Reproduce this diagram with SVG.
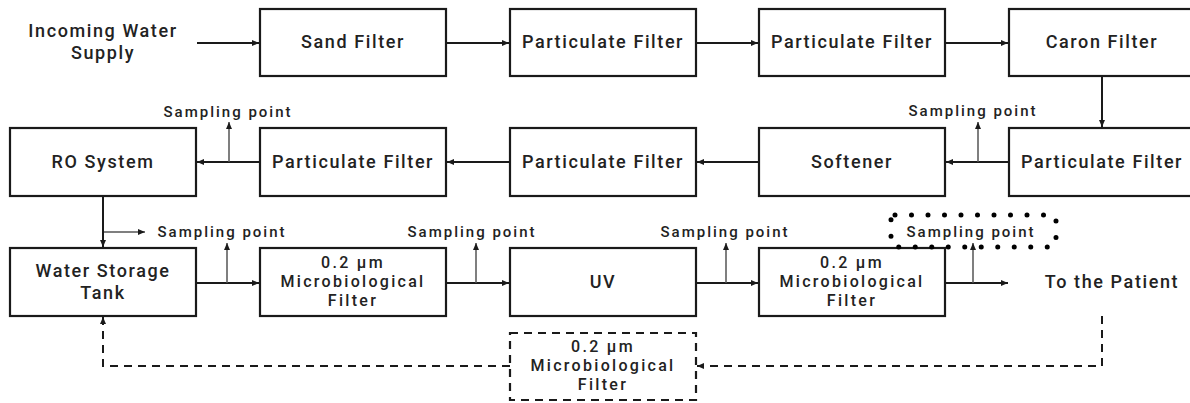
<svg xmlns="http://www.w3.org/2000/svg" width="1190" height="403" viewBox="0 0 1190 403">
<style>
.box{fill:#fff;stroke:#1a1a1a;stroke-width:2.2}
.dbox{fill:#fff;stroke:#1a1a1a;stroke-width:2.2;stroke-dasharray:8 6}
.lbl{font-family:Roboto,"Liberation Sans",sans-serif;font-weight:500;font-size:18px;letter-spacing:1.6px;fill:#222;text-anchor:middle}
.ml{font-family:Roboto,"Liberation Sans",sans-serif;font-weight:500;font-size:16px;letter-spacing:2.3px;fill:#222;text-anchor:middle}
.sp{font-family:Roboto,"Liberation Sans",sans-serif;font-weight:500;font-size:15px;letter-spacing:2px;fill:#222;text-anchor:middle}
.main{stroke:#1a1a1a;stroke-width:2;fill:none}
.samp{stroke:#555;stroke-width:1.5;fill:none}
.dash{stroke:#1a1a1a;stroke-width:2;fill:none;stroke-dasharray:8 6}
</style>
<defs>
<marker id="ah" markerUnits="userSpaceOnUse" markerWidth="8" markerHeight="8" refX="7" refY="4" orient="auto">
<path d="M0,1 L7,4 L0,7 z" fill="#1a1a1a"/>
</marker>
</defs>
<rect width="1190" height="403" fill="#fff"/>

<g id="connectors">
<line class="main" x1="197" y1="43" x2="259" y2="43" marker-end="url(#ah)"/>
<line class="main" x1="446" y1="43" x2="509" y2="43" marker-end="url(#ah)"/>
<line class="main" x1="696" y1="43" x2="758" y2="43" marker-end="url(#ah)"/>
<line class="main" x1="945" y1="43" x2="1008" y2="43" marker-end="url(#ah)"/>
<line class="main" x1="1102" y1="76" x2="1102" y2="127" marker-end="url(#ah)"/>
<line class="main" x1="1009" y1="162" x2="946" y2="162" marker-end="url(#ah)"/>
<line class="samp" x1="978" y1="162" x2="978" y2="122" marker-end="url(#ah)"/>
<line class="main" x1="759" y1="162" x2="697" y2="162" marker-end="url(#ah)"/>
<line class="main" x1="510" y1="162" x2="447" y2="162" marker-end="url(#ah)"/>
<line class="main" x1="260" y1="162" x2="197" y2="162" marker-end="url(#ah)"/>
<line class="samp" x1="229" y1="162" x2="229" y2="122" marker-end="url(#ah)"/>
<line class="main" x1="103" y1="196" x2="103" y2="247" marker-end="url(#ah)"/>
<line class="samp" x1="104" y1="232" x2="145" y2="232" marker-end="url(#ah)"/>
<line class="main" x1="196" y1="283" x2="259" y2="283" marker-end="url(#ah)"/>
<line class="samp" x1="227" y1="283" x2="227" y2="243" marker-end="url(#ah)"/>
<line class="main" x1="446" y1="283" x2="509" y2="283" marker-end="url(#ah)"/>
<line class="samp" x1="476" y1="283" x2="476" y2="243" marker-end="url(#ah)"/>
<line class="main" x1="696" y1="283" x2="758" y2="283" marker-end="url(#ah)"/>
<line class="samp" x1="726" y1="283" x2="726" y2="243" marker-end="url(#ah)"/>
<line class="main" x1="945" y1="283" x2="1008" y2="283" marker-end="url(#ah)"/>
<line class="samp" x1="973" y1="283" x2="973" y2="243" marker-end="url(#ah)"/>
<path class="dash" d="M1102,316 V366 H697" marker-end="url(#ah)"/>
<path class="dash" d="M510,366 H103 V317" marker-end="url(#ah)"/>
</g>

<g id="incoming">
<text class="lbl" x="103" y="37"><tspan x="103">Incoming Water</tspan><tspan x="103" dy="21.5">Supply</tspan></text>
</g>
<g id="sand-filter"><rect class="box" x="260" y="9" width="186" height="67"/><text class="lbl" x="353" y="48">Sand Filter</text></g>
<g id="particulate-filter-1"><rect class="box" x="510" y="9" width="186" height="67"/><text class="lbl" x="603" y="48">Particulate Filter</text></g>
<g id="particulate-filter-2"><rect class="box" x="759" y="9" width="186" height="67"/><text class="lbl" x="852" y="48">Particulate Filter</text></g>
<g id="caron-filter"><rect class="box" x="1009" y="9" width="186" height="67"/><text class="lbl" x="1102" y="48">Caron Filter</text></g>

<g id="particulate-filter-3"><rect class="box" x="1009" y="128" width="186" height="68"/><text class="lbl" x="1102" y="168">Particulate Filter</text></g>
<g id="softener"><rect class="box" x="759" y="128" width="186" height="68"/><text class="lbl" x="852" y="168">Softener</text></g>
<g id="particulate-filter-4"><rect class="box" x="510" y="128" width="186" height="68"/><text class="lbl" x="603" y="168">Particulate Filter</text></g>
<g id="particulate-filter-5"><rect class="box" x="260" y="128" width="186" height="68"/><text class="lbl" x="353" y="168">Particulate Filter</text></g>
<g id="ro-system"><rect class="box" x="10" y="128" width="186" height="68"/><text class="lbl" x="103" y="168">RO System</text></g>

<g id="water-storage-tank"><rect class="box" x="10" y="248" width="186" height="68"/><text class="lbl" x="103" y="277"><tspan x="103">Water Storage</tspan><tspan x="103" dy="21.5">Tank</tspan></text></g>
<g id="micro-filter-1"><rect class="box" x="260" y="248" width="186" height="68"/><text class="ml" x="353" y="268"><tspan x="353">0.2 µm</tspan><tspan x="353" dy="19.2">Microbiological</tspan><tspan x="353" dy="19.2">Filter</tspan></text></g>
<g id="uv"><rect class="box" x="510" y="248" width="186" height="68"/><text class="lbl" x="603" y="288">UV</text></g>
<g id="micro-filter-2"><rect class="box" x="759" y="248" width="186" height="68"/><text class="ml" x="852" y="268"><tspan x="852">0.2 µm</tspan><tspan x="852" dy="19.2">Microbiological</tspan><tspan x="852" dy="19.2">Filter</tspan></text></g>
<g id="patient"><text class="lbl" x="1112" y="288">To the Patient</text></g>
<g id="micro-filter-3"><rect class="dbox" x="510" y="333" width="186" height="67"/><text class="ml" x="603" y="352"><tspan x="603">0.2 µm</tspan><tspan x="603" dy="19.2">Microbiological</tspan><tspan x="603" dy="19.2">Filter</tspan></text></g>

<g id="sampling-labels">
<text class="sp" x="228" y="117">Sampling point</text>
<text class="sp" x="973" y="116">Sampling point</text>
<text class="sp" x="222" y="237">Sampling point</text>
<text class="sp" x="472" y="237">Sampling point</text>
<text class="sp" x="725" y="237">Sampling point</text>
</g>
<g id="sampling-point-highlight">
<rect x="891" y="215" width="165" height="32" rx="4" fill="none" stroke="#000" stroke-width="5" stroke-linecap="round" stroke-dasharray="0 16.5"/>
<text class="sp" x="971" y="237">Sampling point</text>
</g>
</svg>
